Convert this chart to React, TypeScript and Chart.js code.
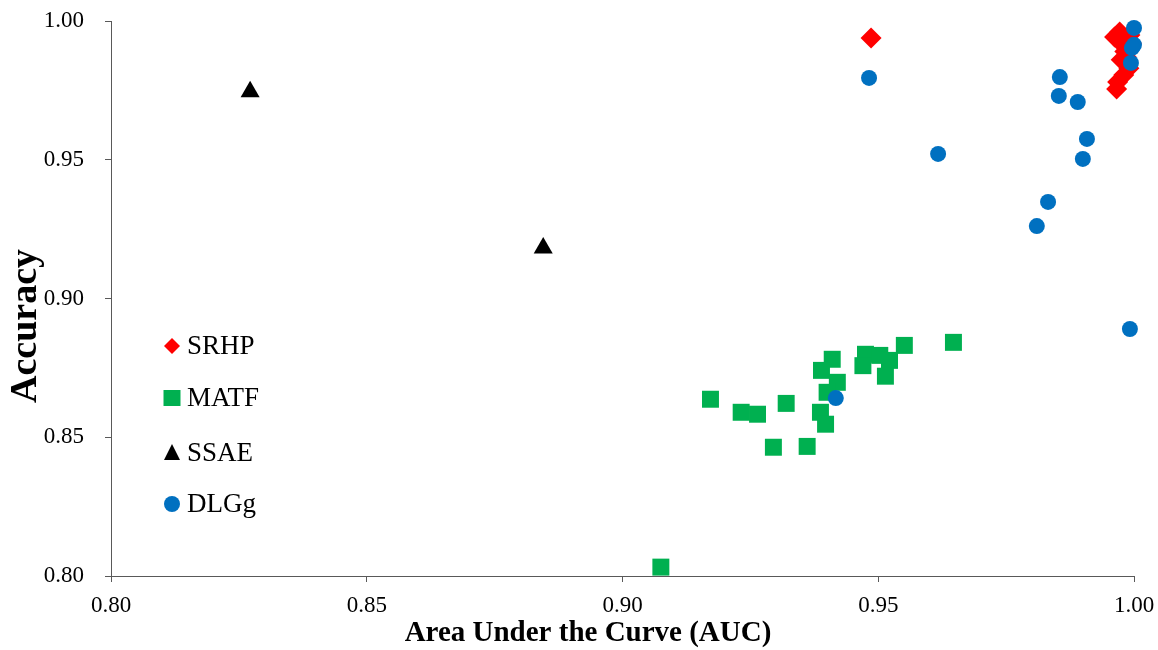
import React, { useEffect, useRef } from "react";
import { Chart, registerables } from "chart.js";

Chart.register(...registerables);

// ---- Data ----
const srhpAuc = [0.9486, 0.9962, 0.9972, 0.9978, 0.9982, 0.9985, 0.9992, 0.999, 0.998, 0.9968, 0.9966, 0.9995, 0.9975];
const srhpAcc = [0.9939, 0.9942, 0.996, 0.9914, 0.989, 0.987, 0.995, 0.983, 0.9805, 0.978, 0.9755, 0.992, 0.986];

const matfAuc = [0.9172, 0.9232, 0.9264, 0.932, 0.9295, 0.9361, 0.941, 0.9389, 0.942, 0.94, 0.9387, 0.9397, 0.9475, 0.947, 0.9503, 0.9522, 0.9514, 0.9551, 0.9647, 0.9075];
const matfAcc = [0.8637, 0.859, 0.8583, 0.8622, 0.8464, 0.8467, 0.8781, 0.8741, 0.8698, 0.8662, 0.859, 0.8547, 0.8799, 0.8758, 0.8795, 0.8777, 0.872, 0.8831, 0.8842, 0.8032];

const ssaeAuc = [0.8272, 0.8845];
const ssaeAcc = [0.9745, 0.9182];

const dlgAuc = [0.9482, 0.9617, 0.9855, 0.9853, 0.989, 0.9908, 0.99, 0.9832, 0.981, 0.9992, 0.9417, 1.0, 1.0, 0.9996, 0.9994];
const dlgAcc = [0.9795, 0.9521, 0.9798, 0.973, 0.9708, 0.9575, 0.9503, 0.9348, 0.9261, 0.889, 0.8641, 0.9975, 0.9914, 0.9903, 0.9849];

const seriesNames = ["SRHP", "MATF", "SSAE", "DLGg"];

const xTitle = "Area Under the Curve (AUC)";
const yTitle = "Accuracy";
const axisMin = 0.8;
const axisMax = 1.0;
const axisStep = 0.05;

const toPoints = (xs: number[], ys: number[]) => xs.map((x, i) => ({ x, y: ys[i] }));

const SERIF = "'Liberation Serif', 'Times New Roman', serif";

function drawShape(ctx: CanvasRenderingContext2D, style: string, x: number, y: number, color: string) {
  ctx.save();
  ctx.fillStyle = color;
  ctx.beginPath();
  if (style === "circle") {
    ctx.arc(x, y, 8, 0, Math.PI * 2);
  } else if (style === "rect") {
    ctx.rect(x - 8.5, y - 8, 17, 16);
  } else if (style === "rectRot") {
    const r = 8;
    ctx.moveTo(x, y - r);
    ctx.lineTo(x + r, y);
    ctx.lineTo(x, y + r);
    ctx.lineTo(x - r, y);
    ctx.closePath();
  } else if (style === "triangle") {
    ctx.moveTo(x, y - 9);
    ctx.lineTo(x + 8, y + 7);
    ctx.lineTo(x - 8, y + 7);
    ctx.closePath();
  }
  ctx.fill();
  ctx.restore();
}

const legendPlugin = {
  id: "innerLegend",
  afterDraw(chart: any) {
    const ctx = chart.ctx as CanvasRenderingContext2D;
    const markerX = 172;
    const textX = 187;
    const ys = [346, 398, 453, 504];
    ctx.save();
    ctx.font = `27px ${SERIF}`;
    ctx.textBaseline = "middle";
    ctx.textAlign = "left";
    chart.data.datasets.forEach((ds: any, i: number) => {
      drawShape(ctx, ds.pointStyle, markerX, ys[i], ds.backgroundColor);
      ctx.fillStyle = "#000";
      ctx.fillText(ds.label, textX, ys[i] + 1);
    });
    ctx.restore();
  },
};

const titlesPlugin = {
  id: "axisTitles",
  afterDraw(chart: any) {
    const ctx = chart.ctx as CanvasRenderingContext2D;
    ctx.save();
    ctx.fillStyle = "#000";
    ctx.textAlign = "center";
    ctx.textBaseline = "middle";
    ctx.font = `bold 29px ${SERIF}`;
    ctx.fillText(xTitle, 588, 634);
    ctx.translate(26, 326);
    ctx.rotate(-Math.PI / 2);
    ctx.font = `bold 38px ${SERIF}`;
    ctx.fillText(yTitle, 0, 0);
    ctx.restore();
  },
};

export default function App() {
  const canvasRef = useRef<HTMLCanvasElement | null>(null);

  useEffect(() => {
    if (!canvasRef.current) return;
    const axisColor = "#595959";
    const chart = new Chart(canvasRef.current, {
      type: "scatter",
      data: {
        datasets: [
          {
            label: seriesNames[0],
            data: toPoints(srhpAuc, srhpAcc),
            pointStyle: "rectRot",
            pointRadius: 10.5,
            backgroundColor: "#FF0000",
            pointBorderWidth: 0,
            clip: false,
            order: 1,
          } as any,
          {
            label: seriesNames[1],
            data: toPoints(matfAuc, matfAcc),
            pointStyle: "rect",
            pointRadius: 12,
            backgroundColor: "#00B050",
            pointBorderWidth: 0,
            clip: false,
            order: 2,
          } as any,
          {
            label: seriesNames[2],
            data: toPoints(ssaeAuc, ssaeAcc),
            pointStyle: "triangle",
            pointRadius: 11,
            backgroundColor: "#000000",
            pointBorderWidth: 0,
            clip: false,
            order: 1,
          } as any,
          {
            label: seriesNames[3],
            data: toPoints(dlgAuc, dlgAcc),
            pointStyle: "circle",
            pointRadius: 8,
            backgroundColor: "#0070C0",
            pointBorderWidth: 0,
            clip: false,
            order: 0,
          } as any,
        ],
      },
      options: {
        animation: false,
        responsive: false,
        layout: { padding: { left: 0, top: 21, right: 24, bottom: 0 } },
        plugins: {
          legend: { display: false },
          tooltip: { enabled: false },
        },
        scales: {
          x: {
            type: "linear",
            min: axisMin,
            max: axisMax,
            afterFit: (scale: any) => {
              scale.height = 74;
              scale.paddingLeft = 0;
              scale.paddingRight = 0;
            },
            ticks: {
              stepSize: axisStep,
              color: "#000",
              padding: 10,
              font: { family: SERIF, size: 23 },
              callback: (v: any) => Number(v).toFixed(2),
            },
            grid: {
              display: true,
              drawOnChartArea: false,
              drawTicks: true,
              tickLength: 6,
              color: axisColor,
            },
            border: { display: true, color: axisColor, width: 1 },
            title: { display: false },
          },
          y: {
            type: "linear",
            min: axisMin,
            max: axisMax,
            afterFit: (scale: any) => {
              scale.width = 111;
              scale.paddingTop = 0;
              scale.paddingBottom = 0;
            },
            ticks: {
              stepSize: axisStep,
              color: "#000",
              padding: 21,
              font: { family: SERIF, size: 23 },
              callback: (v: any) => Number(v).toFixed(2),
            },
            grid: {
              display: true,
              drawOnChartArea: false,
              drawTicks: true,
              tickLength: 6,
              color: axisColor,
            },
            border: { display: true, color: axisColor, width: 1 },
            title: { display: false },
          },
        },
      } as any,
      plugins: [legendPlugin, titlesPlugin],
    });
    return () => chart.destroy();
  }, []);

  return (
    <div style={{ position: "fixed", left: 0, top: 0, width: 1158, height: 650, background: "#fff" }}>
      <canvas ref={canvasRef} width={1158} height={650} />
    </div>
  );
}
